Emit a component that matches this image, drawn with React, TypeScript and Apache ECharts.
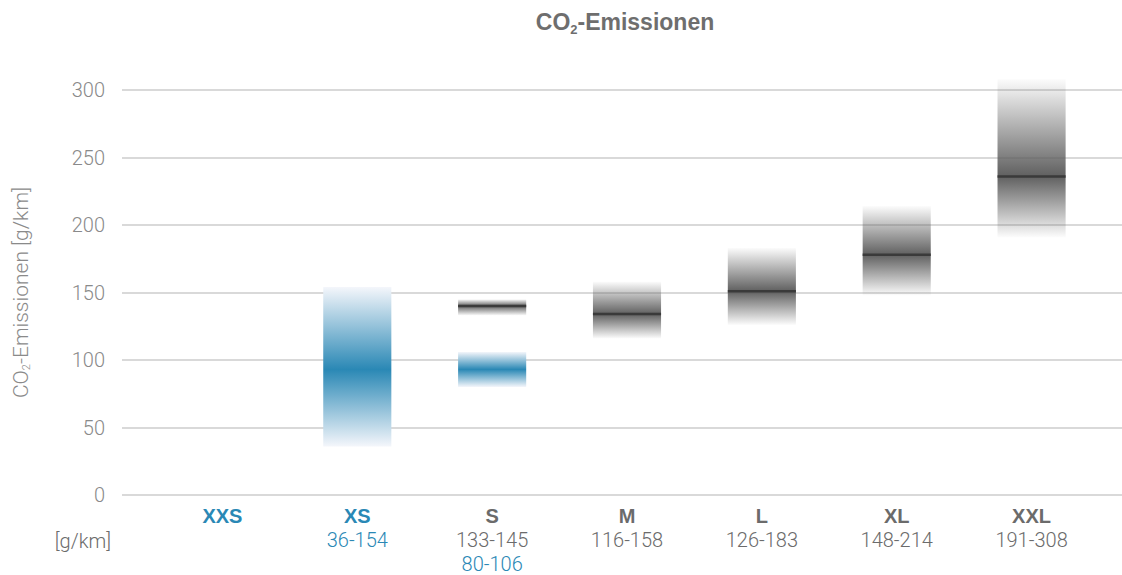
import React, { useEffect, useRef } from 'react';
import * as echarts from 'echarts';

const categories = ['XXS', 'XS', 'S', 'M', 'L', 'XL', 'XXL'];
const categoryIsBlue = [true, true, false, false, false, false, false];
const grayRangeLabels = ['', '', '133-145', '116-158', '126-183', '148-214', '191-308'];
const blueRangeLabels = ['', '36-154', '80-106', '', '', '', ''];

// gray bands (with median line)
const grayCats = ['S', 'M', 'L', 'XL', 'XXL'];
const grayMin = [133, 116, 126, 148, 191];
const grayMax = [145, 158, 183, 214, 308];
const grayMid = [140, 134, 151, 178, 236];

// blue bands
const blueCats = ['XS', 'S'];
const blueMin = [36, 80];
const blueMax = [154, 106];
const blueMid = [93, 93];

const yMin = 0;
const yMax = 300;
const yInterval = 50;

const BLUE = '#2a88b5';
const GRAY_TXT = '#6b6b6b';
const LIGHT_TXT = '#8a8a8a';
const FONT = '"Liberation Sans", Arial, sans-serif';
const LIGHT_FONT = 'Roboto, "Liberation Sans", sans-serif';

function makeRender(kind: 'gray' | 'blue') {
  return (params: any, api: any) => {
    const x = api.value(0);
    const lo = api.value(1);
    const hi = api.value(2);
    const mid = api.value(3);
    const pTop = api.coord([x, hi]);
    const pBot = api.coord([x, lo]);
    const pMid = api.coord([x, mid]);
    const w = api.size([1, 0])[0] * 0.505;
    const h = pBot[1] - pTop[1];
    const off = Math.min(0.99, Math.max(0.01, (pMid[1] - pTop[1]) / h));
    const left = pTop[0] - w / 2;
    const stops =
      kind === 'gray'
        ? [
            { offset: 0, color: 'rgba(96,96,96,0.02)' },
            { offset: off, color: 'rgba(96,96,96,1)' },
            { offset: 1, color: 'rgba(96,96,96,0.02)' },
          ]
        : [
            { offset: 0, color: '#f4f6fb' },
            { offset: off, color: BLUE },
            { offset: 1, color: '#f4f6fb' },
          ];
    const children: any[] = [
      {
        type: 'rect',
        shape: { x: left, y: pTop[1], width: w, height: h },
        style: { fill: new echarts.graphic.LinearGradient(0, 0, 0, 1, stops) },
      },
    ];
    if (kind === 'gray') {
      children.push({
        type: 'line',
        shape: { x1: left, y1: pMid[1], x2: left + w, y2: pMid[1] },
        style: { stroke: '#3a3a3a', lineWidth: 2.5 },
      });
    }
    return { type: 'group', children };
  };
}

export default function App() {
  const ref = useRef<HTMLDivElement>(null);
  useEffect(() => {
    if (!ref.current) return;
    const chart = echarts.init(ref.current, null, { renderer: 'svg' });

    const grayData = grayCats.map((c, i) => [categories.indexOf(c), grayMin[i], grayMax[i], grayMid[i]]);
    const blueData = blueCats.map((c, i) => [categories.indexOf(c), blueMin[i], blueMax[i], blueMid[i]]);

    const option: any = {
      animation: false,
      backgroundColor: '#ffffff',
      grid: [
        { left: 122, right: 0, top: 90, bottom: 80 },
        { left: 155, right: 23, top: 90, bottom: 80 },
      ],
      xAxis: [
        { type: 'value', gridIndex: 0, min: 0, max: 1, show: false },
        {
          type: 'category',
          gridIndex: 1,
          data: categories,
          axisLine: { show: false },
          axisTick: { show: false },
          splitLine: { show: false },
          axisLabel: {
            margin: 9,
            interval: 0,
            formatter: (v: string, idx: number) => {
              const lines: string[] = [];
              lines.push(categoryIsBlue[idx] ? `{bb|${v}}` : `{bg|${v}}`);
              if (grayRangeLabels[idx]) lines.push(`{g|${grayRangeLabels[idx]}}`);
              if (blueRangeLabels[idx]) lines.push(`{bl|${blueRangeLabels[idx]}}`);
              return lines.join('\n');
            },
            rich: {
              bb: { fontFamily: FONT, fontWeight: 'bold', fontSize: 20, color: BLUE, lineHeight: 24 },
              bg: { fontFamily: FONT, fontWeight: 'bold', fontSize: 20, color: GRAY_TXT, lineHeight: 24 },
              g: { fontFamily: LIGHT_FONT, fontWeight: 300, fontSize: 20, color: GRAY_TXT, lineHeight: 24 },
              bl: { fontFamily: LIGHT_FONT, fontWeight: 300, fontSize: 20, color: BLUE, lineHeight: 24 },
            },
          },
        },
      ],
      yAxis: [
        {
          type: 'value',
          gridIndex: 0,
          min: yMin,
          max: yMax,
          interval: yInterval,
          axisLine: { show: false },
          axisTick: { show: false },
          axisLabel: {
            margin: 17,
            color: LIGHT_TXT,
            fontFamily: LIGHT_FONT,
            fontWeight: 300,
            fontSize: 20,
          },
          splitLine: { lineStyle: { color: '#cccccc', width: 1.5 } },
          name: '{a|CO}{s|2}{a|-Emissionen [g/km]}',
          nameLocation: 'middle',
          nameRotate: 90,
          nameGap: 90,
          nameTextStyle: {
            rich: {
              a: { fontFamily: LIGHT_FONT, fontWeight: 300, fontSize: 21, color: LIGHT_TXT, lineHeight: 22 },
              s: { fontFamily: LIGHT_FONT, fontWeight: 300, fontSize: 11, color: LIGHT_TXT, padding: [12, 0, 0, 0] },
            },
          },
        },
        {
          type: 'value',
          gridIndex: 1,
          min: yMin,
          max: yMax,
          interval: yInterval,
          show: false,
          splitLine: { show: false },
        },
      ],
      graphic: [
        {
          type: 'text',
          x: 625,
          y: 22,
          style: {
            text: '{a|CO}{s|2}{a|-Emissionen}',
            align: 'center',
            verticalAlign: 'middle',
            rich: {
              a: { fontFamily: FONT, fontWeight: 'bold', fontSize: 23, fill: '#6e6e6e', lineHeight: 26 },
              s: { fontFamily: FONT, fontWeight: 'bold', fontSize: 13, fill: '#6e6e6e', padding: [15, 0, 0, 0] },
            },
          },
        },
        {
          type: 'text',
          x: 111,
          y: 541,
          style: {
            text: '[g/km]',
            align: 'right',
            verticalAlign: 'middle',
            fontFamily: LIGHT_FONT,
            fontWeight: 300,
            fontSize: 20,
            fill: GRAY_TXT,
          },
        },
      ],
      series: [
        {
          type: 'custom',
          name: 'gray',
          xAxisIndex: 1,
          yAxisIndex: 1,
          clip: false,
          renderItem: makeRender('gray'),
          encode: { x: 0, y: [1, 2] },
          data: grayData,
        },
        {
          type: 'custom',
          name: 'blue',
          xAxisIndex: 1,
          yAxisIndex: 1,
          clip: false,
          renderItem: makeRender('blue'),
          encode: { x: 0, y: [1, 2] },
          data: blueData,
        },
      ],
    };
    chart.setOption(option);
    return () => chart.dispose();
  }, []);
  return <div ref={ref} style={{ width: 1122, height: 575, position: 'absolute', left: 0, top: 0 }} />;
}
